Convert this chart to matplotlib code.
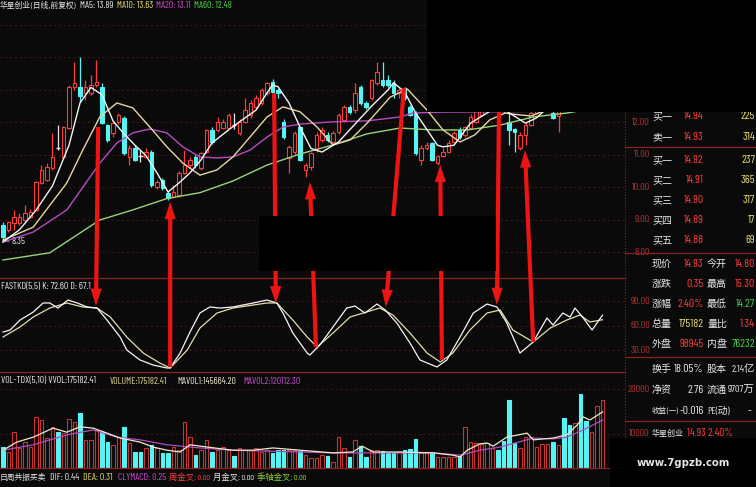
import numpy as np
import matplotlib
matplotlib.use("Agg")
import matplotlib.pyplot as plt
from matplotlib.patches import Rectangle, ConnectionPatch, ArrowStyle
from matplotlib.lines import Line2D

# ---- daily candles (front adjusted) ----
opens = [8.85, 8.69, 8.91, 8.91, 9.00, 9.10, 9.31, 10.14, 10.23, 10.60,
         11.20, 10.94, 11.83, 13.09, 13.10, 12.90, 12.90, 13.15, 13.10, 11.92,
         11.68, 12.02, 12.14, 10.94, 11.22, 10.98, 10.94, 11.10, 10.00, 10.23,
         9.83, 9.72, 9.77, 10.45, 10.69, 10.94, 10.60, 11.10, 11.77, 11.77,
         11.83, 11.83, 11.92, 11.68, 12.02, 12.23, 12.48, 12.60, 12.90, 13.25,
         13.00, 12.02, 10.90, 11.10, 11.85, 10.54, 10.63, 11.15, 11.46, 11.62,
         11.40, 11.70, 12.08, 12.48, 12.38, 13.10, 12.60, 12.75, 13.22, 13.31,
         13.31, 13.22, 12.90, 13.06, 12.48, 12.30, 10.85, 11.20, 11.37, 10.75,
         10.98, 11.10, 11.40, 11.77, 11.62, 11.83, 12.02, 12.23, 12.60, 12.90,
         13.20, 12.90, 12.02, 11.80, 11.22, 11.62, 11.92, 12.30, 12.60, 12.50,
         12.30, 12.20, 12.90, 12.80, 12.60, 13.40, 13.60, 13.40, 13.80, 14.80]
closes = [8.48, 8.94, 9.09, 9.09, 9.20, 9.25, 10.17, 10.54, 10.63, 10.94,
          11.20, 11.85, 13.10, 13.22, 12.80, 13.10, 13.15, 13.25, 11.98, 11.46,
          11.98, 12.23, 11.06, 11.22, 10.85, 10.98, 11.10, 10.08, 10.17, 9.98,
          9.68, 9.86, 10.45, 10.69, 10.85, 10.69, 11.06, 11.77, 11.40, 12.02,
          12.02, 12.23, 11.92, 12.02, 12.38, 12.60, 12.75, 13.00, 13.20, 12.94,
          12.90, 11.55, 11.25, 11.68, 10.85, 10.69, 11.06, 11.62, 11.77, 11.46,
          11.68, 12.23, 12.48, 12.33, 12.90, 12.60, 12.48, 13.31, 13.55, 13.15,
          13.15, 12.90, 13.00, 12.75, 12.23, 11.06, 11.20, 11.30, 10.85, 10.98,
          11.10, 11.37, 11.68, 11.55, 11.85, 12.17, 12.38, 12.69, 12.90, 13.20,
          12.95, 12.40, 11.77, 11.70, 11.62, 11.92, 12.30, 12.60, 12.85, 12.70,
          12.15, 12.50, 12.60, 12.60, 13.10, 13.00, 13.40, 13.80, 14.30, 14.93]
highs = [8.94, 8.98, 9.31, 9.20, 9.46, 9.35, 10.20, 10.70, 10.75, 11.68,
         11.92, 11.90, 13.15, 13.86, 14.02, 13.30, 13.46, 13.92, 13.20, 11.95,
         12.00, 12.30, 12.20, 11.30, 11.30, 11.15, 11.20, 11.15, 10.23, 10.30,
         9.90, 10.08, 10.50, 11.15, 10.95, 11.00, 11.10, 11.80, 11.85, 12.17,
         12.10, 12.30, 12.30, 12.10, 12.75, 12.70, 12.85, 13.05, 13.26, 13.35,
         13.05, 12.10, 11.30, 11.75, 11.90, 10.75, 11.10, 11.70, 11.85, 11.70,
         11.75, 12.30, 12.55, 12.55, 13.22, 13.15, 12.65, 13.35, 13.86, 13.86,
         13.46, 13.30, 13.05, 13.10, 12.55, 12.35, 11.30, 11.40, 11.40, 11.00,
         11.20, 11.45, 11.75, 11.85, 11.90, 12.25, 12.45, 12.80, 13.00, 13.30,
         13.30, 12.95, 12.33, 11.82, 11.70, 12.00, 12.40, 12.70, 12.95, 12.80,
         12.45, 12.60, 13.00, 12.95, 13.20, 13.50, 13.80, 13.90, 14.40, 15.30]
lows = [8.35, 8.62, 8.69, 8.85, 8.95, 9.05, 9.28, 10.10, 10.20, 10.55,
        11.15, 10.90, 11.80, 13.00, 12.62, 12.70, 12.85, 13.10, 11.95, 11.40,
        11.55, 11.95, 11.00, 10.69, 10.80, 10.78, 10.90, 10.00, 9.95, 9.92,
        9.62, 9.68, 9.72, 10.40, 10.60, 10.60, 10.55, 11.05, 11.35, 11.70,
        11.80, 11.80, 11.80, 11.60, 11.98, 12.15, 12.40, 12.55, 12.85, 12.90,
        12.75, 11.50, 10.45, 11.00, 10.80, 10.32, 10.55, 11.10, 11.40, 11.40,
        11.35, 11.65, 12.00, 12.25, 12.30, 12.55, 12.40, 12.70, 13.15, 13.10,
        13.10, 12.75, 12.75, 12.70, 12.20, 11.00, 10.69, 11.15, 10.80, 10.70,
        10.95, 11.05, 11.35, 11.50, 11.55, 11.80, 11.98, 12.20, 12.50, 12.85,
        12.85, 12.30, 11.31, 11.10, 11.15, 11.30, 11.90, 12.25, 12.50, 12.40,
        12.10, 11.70, 12.50, 12.50, 12.55, 12.95, 13.30, 13.35, 13.75, 14.27]
volumes = [7100, 6000, 10400, 6900, 8200, 7100, 13800, 13100, 9100, 11600,
           10400, 10200, 13300, 12700, 14700, 8700, 8700, 10900, 10400, 8200,
           7600, 9300, 11600, 8000, 6000, 6000, 6900, 7600, 6900, 5800,
           5800, 7100, 6400, 12700, 9300, 5300, 6400, 8700, 6000, 6400,
           7100, 6400, 5100, 6900, 6400, 6400, 6900, 6000, 6400, 5800,
           6400, 6400, 6400, 6400, 6200, 5300, 4700, 4700, 5300, 5100,
           3800, 9300, 6900, 4900, 8700, 7300, 4900, 6400, 6400, 6200,
           5800, 5800, 6000, 6400, 6700, 8900, 5800, 5800, 6000, 4900,
           4900, 4900, 4900, 5100, 11600, 8200, 8000, 7800, 8000, 6900,
           6400, 8400, 17600, 8000, 6900, 9300, 9300, 7100, 7800, 7800,
           8200, 7600, 13600, 12000, 12400, 18900, 12900, 10400, 16200, 17600]

# moving averages sampled along the curves (candle index, price)
ma5_i = [0, 3, 6, 9, 12, 14, 16, 18, 20, 22, 24, 26, 28, 30, 32, 34, 36, 38, 41, 43,
         46, 48, 49, 50, 52, 54, 56, 58, 61, 64, 67, 70, 71, 73, 75, 77, 79, 80, 82, 85,
         88, 90, 92, 95, 97, 99, 102, 105, 109]
ma5 = [8.32, 8.70, 9.30, 10.05, 11.30, 12.60, 13.08, 12.85, 12.05, 11.65, 11.30, 10.98,
       10.45, 9.86, 10.14, 10.45, 10.85, 11.37, 11.77, 12.02, 12.38, 12.91, 13.15, 13.10,
       12.60, 11.86, 11.20, 11.09, 11.40, 11.95, 12.50, 13.00, 13.22, 12.95, 12.30, 11.80,
       11.30, 11.25, 11.30, 11.98, 12.29, 12.50, 12.30, 11.98, 12.14, 12.45, 12.90, 13.30, 13.89]
ma10_i = [0, 5.5, 11.6, 14.5, 17.6, 20.7, 23.6, 26.7, 29.8, 32.7, 35.8, 38.9, 41.8, 44.9,
          48, 50.9, 54, 57.1, 60, 63.1, 66.2, 70.4, 73.5, 77.1, 80, 83.1, 85.8, 88.5, 91.3,
          93, 96, 99, 103, 106, 109]
ma10 = [8.38, 8.78, 10.14, 11.15, 12.17, 12.60, 12.45, 11.86, 11.25, 10.75, 10.38, 10.54,
        10.94, 11.55, 12.17, 12.48, 12.33, 11.86, 11.31, 11.46, 11.98, 12.78, 13.03, 12.38,
        11.77, 11.40, 11.62, 12.08, 12.29, 12.25, 12.20, 12.40, 12.80, 13.20, 13.63]
ma20_i = [0, 5.5, 11.6, 17.6, 20.7, 23.6, 26.7, 29.8, 32.7, 35.8, 38.9, 41.8, 44.9, 48,
          50.9, 54, 60, 66.2, 72.2, 74.5, 80, 90, 100, 105, 109]
ma20 = [8.32, 8.63, 9.31, 10.75, 11.37, 11.68, 11.80, 11.68, 11.25, 10.94, 10.91, 10.94,
        11.15, 11.55, 11.86, 11.95, 12.02, 12.05, 12.17, 12.29, 12.32, 12.33, 12.35, 12.70, 13.11]
ma60_i = [0, 8.5, 17.6, 23.6, 29.8, 35.8, 41.8, 48, 54, 60, 66.2, 72.2, 78.2, 84.4, 90.4,
          96.4, 102.5, 109]
ma60 = [7.77, 7.99, 9.00, 9.31, 9.66, 9.84, 10.20, 10.69, 11.03, 11.31, 11.65, 11.83,
        11.77, 11.77, 11.92, 12.17, 12.29, 12.48]

# FASTKD(5,5)
k_i = [0, 1.3, 3.1, 5.5, 7.3, 8.5, 10, 11.8, 13.5, 15.3, 17.1, 18.9, 21.3, 22.5, 24.9,
       27.3, 29.8, 30.4, 32.2, 34, 35.8, 37.6, 39.5, 41.8, 45.5, 48, 49.8, 50.9, 52.7,
       55.3, 55.8, 57.6, 60, 62.5, 64, 65.8, 68, 69.5, 71.6, 74, 75.8, 78.9, 80.7, 83.1,
       85.5, 88, 89.8, 91.6, 94, 96.4, 98.9, 100, 101.8, 103.1, 104, 105.5, 107.1, 109]
k_val = [52.0, 54.5, 66.7, 76.5, 87.6, 87.6, 81.4, 91.2, 87.6, 82.7, 81.4, 66.7, 45.9,
         30.0, 17.8, 11.6, 8.0, 8.0, 26.3, 52.0, 75.3, 82.7, 81.4, 82.7, 87.6, 91.2, 87.6,
         75.3, 50.8, 26.3, 23.9, 36.1, 58.2, 81.4, 83.9, 75.3, 86.3, 79.0, 63.1, 38.6, 17.8,
         9.2, 17.8, 45.9, 75.3, 86.3, 82.7, 63.1, 26.3, 39.8, 69.2, 60.6, 75.3, 70.4, 81.4,
         69.2, 54.5, 72.6]
d_i = [0, 3.1, 5.5, 8.5, 11.6, 14.5, 17.1, 19.5, 22.5, 25.5, 28.5, 30.4, 33.5, 35.8, 38.9,
       41.8, 48, 49.8, 52.7, 55.3, 57.1, 60, 63.1, 65.5, 68.5, 70.9, 74, 77.1, 79.5, 81.8,
       84.9, 88, 90.4, 92.7, 96.4, 99.5, 102.5, 104.9, 106.7, 109]
d_val = [45.9, 58.2, 70.4, 81.4, 87.6, 82.7, 81.4, 70.4, 45.9, 26.3, 14.1, 8.0, 30.0, 56.9,
         75.3, 81.4, 87.6, 87.6, 66.7, 45.9, 33.7, 50.8, 70.4, 75.3, 81.4, 72.9, 50.8, 26.3,
         15.3, 26.3, 54.5, 75.3, 79.0, 54.5, 39.8, 56.9, 66.7, 72.9, 64.3, 67.1]

# volume averages
mv1_i = [0, 2.5, 5.5, 9.1, 11.6, 14, 16.4, 18.9, 21.3, 24.9, 27.3, 29.8, 32.2, 34, 37.1,
         41.8, 45.5, 49.1, 54, 60, 63.6, 65.3, 67.3, 72.2, 78.2, 81.8, 83.1, 84.4, 86.7, 88,
         89.1, 91.6, 95.3, 96.4, 100, 102.5, 104.4, 105.5, 106.7, 109]
mv1 = [6400, 8200, 9300, 11300, 10400, 11600, 11300, 10200, 9100, 8200, 7100, 6400, 6000,
       7600, 7100, 6400, 6400, 6900, 6400, 5800, 6000, 7300, 6000, 6000, 5800, 5300, 4900,
       6400, 7800, 8000, 7300, 9300, 10200, 8700, 9100, 9800, 12000, 13800, 13100, 14900]
mv2_i = [0, 5.5, 11.6, 16.4, 20.7, 24.9, 29.8, 35.8, 41.8, 48, 54, 60, 66.2, 72.2, 78.2,
         83.1, 86.7, 90.4, 96.4, 100, 102.5, 105.5, 109]
mv2 = [6400, 7600, 9800, 10900, 9300, 8700, 7600, 6900, 6400, 6200, 6000, 5800, 5800, 5800,
       5800, 5300, 6400, 7100, 9100, 8900, 9300, 10900, 13100]

# red signal arrows: (from panel, index, value) -> (to panel, index, value)
arrows = [("main", 17.3, 11.86, "kd", 16.9, 84.0),
          ("kd", 30.4, 9.0, "main", 30.4, 9.56),
          ("main", 49.3, 12.90, "kd", 49.6, 87.0),
          ("kd", 56.9, 33.7, "main", 55.8, 10.17),
          ("main", 72.9, 13.06, "kd", 69.6, 82.7),
          ("kd", 79.8, 18.0, "main", 79.5, 10.70),
          ("main", 90.2, 12.69, "kd", 89.8, 85.0),
          ("kd", 96.4, 39.8, "main", 94.9, 11.15)]

price_ticks = [8, 9, 10, 11, 12]
kd_ticks = [30, 60, 90]
vol_ticks = [10000, 20000]

# ---- style ----
BG = "#0a0a0a"
RED = "#ff3c3c"
CYAN = "#56f4f4"
WHITE = "#e8e8e8"
YELLOW = "#e6dc70"
MAG = "#cc4cd0"
GREEN = "#4ad04a"
GRID = "#4a1616"
SEP = "#8a2222"
LAB = "#b03232"
ARROW = "#ee1414"
CJK = ["Noto Sans CJK SC", "DejaVu Sans"]
NUM = ["Barlow Condensed", "DejaVu Sans"]
MIX = ["Barlow Condensed", "Noto Sans CJK SC", "DejaVu Sans"]

W, H = 756, 487
fig = plt.figure(figsize=(W / 100, H / 100), dpi=100, facecolor=BG)
renderer = fig.canvas.get_renderer()


def fx(x):
    return x / W


def fy(y):
    return 1 - y / H


ax_main = fig.add_axes([0, fy(278), fx(625), (278 - 10) / H])
ax_kd = fig.add_axes([0, fy(372), fx(625), (372 - 278) / H])
ax_vol = fig.add_axes([0, fy(468), fx(625), (468 - 372) / H])
axes = {"main": ax_main, "kd": ax_kd, "vol": ax_vol}
for ax in axes.values():
    ax.set_facecolor(BG)
    ax.set_xlim(-0.545, 113.09)
    for s in ax.spines.values():
        s.set_visible(False)
    ax.set_xticks([])
    ax.set_yticks([])
ax_main.set_ylim(7.215, 15.461)
ax_kd.set_ylim(3.06, 118.2)
ax_vol.set_ylim(2444, 23778)

o = np.array(opens); c = np.array(closes)
h = np.array(highs); l = np.array(lows)
idx = np.arange(len(o))
up = c > o
dn = c < o
flat = c == o
col = np.where(up, RED, np.where(dn, CYAN, WHITE))

# grid
for p in range(8, 16):
    ax_main.axhline(p, color=GRID, lw=0.7, ls=(0, (2, 3)), zorder=0)
for v in kd_ticks:
    ax_kd.axhline(v, color=GRID, lw=0.7, ls=(0, (2, 3)), zorder=0)
for v in vol_ticks:
    ax_vol.axhline(v, color=GRID, lw=0.7, ls=(0, (2, 3)), zorder=0)

# candles
ax_main.vlines(idx, l, h, colors=col, lw=0.9, zorder=2)
nf = ~flat
ax_main.bar(idx[nf], np.abs(c - o)[nf], bottom=np.minimum(o, c)[nf], width=0.72,
            color=np.where(up, BG, CYAN)[nf], edgecolor=col[nf], linewidth=0.8, zorder=3)
ax_main.hlines(o[flat], idx[flat] - 0.4, idx[flat] + 0.4, colors=WHITE, lw=1.0, zorder=3)

ax_main.plot(ma60_i, ma60, color="#9ad47a", lw=1.0, zorder=4)
ax_main.plot(ma20_i, ma20, color="#b84cc4", lw=1.0, zorder=4)
ax_main.plot(ma10_i, ma10, color="#e6d6a0", lw=1.0, zorder=4)
ax_main.plot(ma5_i, ma5, color="#f4f4f4", lw=1.0, zorder=4)
ax_main.annotate("8.35", xy=(0.2, 8.35), xytext=(1.6, 8.35), color=WHITE, fontsize=7,
                 family=NUM, va="center", ha="left",
                 arrowprops=dict(arrowstyle="-", color=WHITE, lw=0.6, shrinkA=0, shrinkB=0))

# KD
ax_kd.plot(d_i, d_val, color="#e6dcb0", lw=0.9)
ax_kd.plot(k_i, k_val, color="#f6f6f6", lw=0.9)

# volume
vcol = np.where(up, "#c83434", CYAN)
ax_vol.bar(idx, volumes, width=0.72, color=np.where(up, BG, CYAN), edgecolor=vcol,
           linewidth=0.8, zorder=2)
ax_vol.plot(mv2_i, mv2, color="#b04cc0", lw=0.9, zorder=3)
ax_vol.plot(mv1_i, mv1, color="#efe9cc", lw=0.9, zorder=3)

# right hand axis labels
for p in price_ticks:
    ax_main.text(1.04, p, f"{p:.2f}", transform=ax_main.get_yaxis_transform(), ha="right",
                 va="center", color=LAB, fontsize=7.5, family=NUM)
for v in kd_ticks:
    ax_kd.text(1.04, v, f"{v:.2f}", transform=ax_kd.get_yaxis_transform(), ha="right",
               va="center", color=LAB, fontsize=7.5, family=NUM)
for v in vol_ticks:
    ax_vol.text(1.04, v, f"{v}", transform=ax_vol.get_yaxis_transform(), ha="right",
                va="center", color=LAB, fontsize=7.5, family=NUM)

# panel separators and frame lines
for y in (278, 372, 468):
    fig.add_artist(Line2D([0, fx(625)], [fy(y)] * 2, color=SEP, lw=0.9))
fig.add_artist(Line2D([fx(625)] * 2, [fy(0), fy(468)], color=SEP, lw=0.8, ls=":"))
for y in (147, 253, 357, 421):
    fig.add_artist(Line2D([fx(625), 1], [fy(y)] * 2, color=SEP, lw=0.9))


def put(x, y, s, color, size, ha="left", family=NUM, **kw):
    return fig.text(fx(x), fy(y), s, color=color, fontsize=size, ha=ha, va="center",
                    family=family, **kw)


def row(y, items, gap=3):
    # texts of one caption line, kept at their reference x but never overlapping
    right = -1e9
    for x, s, color, size, fam in items:
        t = put(max(x, right + gap), y, s, color, size, family=fam)
        right = t.get_window_extent(renderer).x1


# captions
row(5, [(0, "华星创业(日线,前复权)", WHITE, 5.6, CJK),
        (70, "MA5: 13.89", WHITE, 7, NUM),
        (107, "MA10: 13.63", YELLOW, 7, NUM),
        (148, "MA20: 13.11", MAG, 7, NUM),
        (189, "MA60: 12.48", GREEN, 7, NUM)])
row(287, [(1, "FASTKD(5,5) K: 72.60 D: 67.1", WHITE, 7, NUM)])
row(381, [(1, "VOL-TDX(5,10) VVOL:175182.41", WHITE, 7, NUM),
          (110, "VOLUME:175182.41", "#e0d890", 7, NUM),
          (177, "MAVOL1:145664.20", "#ecead4", 7, NUM),
          (243, "MAVOL2:120112.30", MAG, 7, NUM)])
row(478, [(0, "日周共振买卖", WHITE, 5.6, CJK),
          (45, "DIF: 0.44", WHITE, 7, NUM),
          (83, "DEA: 0.31", YELLOW, 7, NUM),
          (118, "CLYMACD: 0.25", MAG, 7, NUM),
          (160, "周金叉: 0.00", RED, 6, MIX),
          (197, "月金叉: 0.00", WHITE, 6, MIX),
          (240, "季轴金叉: 0.00", "#8ad040", 6, MIX)])

# order book / quote table
TS = 8.5   # numbers
LS = 7.2   # chinese labels
book = [(116, "买一", "14.94", "225"), (137, "卖一", "14.93", "314"),
        (160, "买一", "14.92", "237"), (180, "买二", "14.91", "365"),
        (200, "买三", "14.90", "317"), (220, "买四", "14.89", "17"),
        (240, "买五", "14.88", "69")]
for y, lab, pr, q in book:
    put(652, y, lab, WHITE, LS, family=CJK)
    put(704, y, pr, RED, TS, ha="right")
    put(755, y, q, YELLOW, TS, ha="right")
stats = [(264, "现价", "14.93", RED, "今开", "14.80", RED),
         (284, "涨跌", "0.35", RED, "最高", "15.30", RED),
         (304, "涨幅", "2.40%", RED, "最低", "14.27", GREEN),
         (324, "总量", "175182", YELLOW, "量比", "1.34", RED),
         (344, "外盘", "98945", RED, "内盘", "76232", GREEN),
         (369, "换手", "18.05%", WHITE, "股本", "2.14亿", WHITE),
         (390, "净资", "2.76", WHITE, "流通", "9707万", WHITE)]
for y, l1, v1, c1, l2, v2, c2 in stats:
    put(652, y, l1, WHITE, LS, family=CJK)
    put(704, y, v1, c1, TS, ha="right")
    put(707, y, l2, WHITE, LS, family=CJK)
    put(755, y, v2, c2, TS if v2[-1].isdigit() else 7.5, ha="right", family=MIX)
put(652, 411, "收益(一)", WHITE, 5.4, family=CJK)
put(704, 411, "-0.016", WHITE, TS, ha="right")
put(707, 411, "PE(动)", WHITE, 7.0, family=MIX)
put(751, 411, "-", WHITE, TS, ha="right")
put(652, 433, "华星创业", WHITE, 5.8, family=CJK)
put(687, 433, "14.93 2.40%", RED, 8)

# arrows
style = ArrowStyle.Simple(head_length=1.25, head_width=0.8, tail_width=0.3)
for pa, ia, va, pb, ib, vb in arrows:
    con = ConnectionPatch(xyA=(ia, va), coordsA=axes[pa].transData,
                          xyB=(ib, vb), coordsB=axes[pb].transData,
                          arrowstyle=style, mutation_scale=10, fc=ARROW, ec="none",
                          lw=0, zorder=20)
    fig.add_artist(con)

# masked regions of the screenshot
for x0, y0, x1, y1 in [(427, 0, 756, 112), (259, 216, 496, 271), (610, 438, 756, 487)]:
    fig.add_artist(Rectangle((fx(x0), fy(y1)), (x1 - x0) / W, (y1 - y0) / H,
                             transform=fig.transFigure, fc="black", ec="none", zorder=30))
put(683, 463, "www.7gpzb.com", "#e4e4e4", 7.3, ha="center", family=["DejaVu Sans"],
    fontweight="bold", zorder=40)

fig.savefig("out.png", dpi=100, facecolor=BG)
